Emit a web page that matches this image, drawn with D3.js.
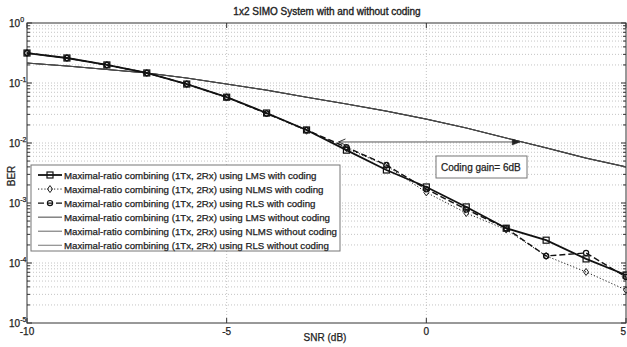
<!DOCTYPE html>
<html>
<head>
<meta charset="utf-8">
<script src="https://cdn.jsdelivr.net/npm/d3@7"></script>
<style>
  body { margin: 0; background: #fff; }
  text { font-family: Arial, "Liberation Sans", sans-serif; fill: #222; stroke: #222; stroke-width: 0.25; }
</style>
</head>
<body>
<svg id="chart" width="627" height="347"></svg>
<script>
// SNR points (dB)
const snr = [-10, -9, -8, -7, -6, -5, -4, -3, -2, -1, 0, 1, 2, 3, 4, 5];

// BER with coding
const lmsCoded  = [0.316, 0.261, 0.2, 0.147, 0.096, 0.058, 0.0316, 0.0165, 0.0076, 0.00355, 0.00185, 0.00086, 0.00038, 0.00024, 0.000117, 0.000063];
const nlmsCoded = [0.316, 0.261, 0.2, 0.147, 0.096, 0.058, 0.031, 0.016, 0.0082, 0.0042, 0.0015, 0.00068, 0.00036, 0.000131, 0.000071, 0.0000355];
const rlsCoded  = [0.316, 0.261, 0.2, 0.147, 0.096, 0.058, 0.031, 0.0165, 0.0085, 0.0043, 0.0017, 0.00078, 0.00038, 0.000131, 0.000147, 0.0000585];

// BER without coding (the three curves overlap)
const lmsUncoded  = [0.215, 0.192, 0.168, 0.147, 0.121, 0.096, 0.076, 0.058, 0.0447, 0.034, 0.025, 0.0178, 0.0121, 0.0083, 0.0056, 0.004];
const nlmsUncoded = [0.215, 0.192, 0.168, 0.147, 0.121, 0.096, 0.076, 0.058, 0.0447, 0.034, 0.025, 0.0178, 0.0121, 0.0083, 0.0056, 0.004];
const rlsUncoded  = [0.215, 0.192, 0.168, 0.147, 0.121, 0.096, 0.076, 0.058, 0.0447, 0.034, 0.025, 0.0178, 0.0121, 0.0083, 0.0056, 0.004];

const xTicks = [-10, -5, 0, 5];
const yExponents = [0, -1, -2, -3, -4, -5];

const legendLabels = [
  'Maximal-ratio combining (1Tx, 2Rx) using LMS with coding',
  'Maximal-ratio combining (1Tx, 2Rx) using NLMS with coding',
  'Maximal-ratio combining (1Tx, 2Rx) using RLS with coding',
  'Maximal-ratio combining (1Tx, 2Rx) using LMS without coding',
  'Maximal-ratio combining (1Tx, 2Rx) using NLMS without coding',
  'Maximal-ratio combining (1Tx, 2Rx) using RLS without coding'
];

// coding gain arrow (SNR start, SNR end, BER level)
const gainArrow = [-2.2, 2.35, 0.0104];
const gainText = 'Coding gain= 6dB';

const series = [
  { values: lmsUncoded,  stroke: '#3a3a3a', width: 1.1, dash: null, marker: null },
  { values: nlmsUncoded, stroke: '#444',    width: 1.0, dash: null, marker: null },
  { values: rlsUncoded,  stroke: '#4a4a4a', width: 1.0, dash: null, marker: null },
  { values: lmsCoded,  stroke: '#111', width: 1.8, dash: null,  marker: 'square' },
  { values: nlmsCoded, stroke: '#222', width: 1.0, dash: '1.2,2', marker: 'diamond' },
  { values: rlsCoded,  stroke: '#111', width: 1.4, dash: '6,3', marker: 'circle' }
];
const legendStyle = [series[3], series[4], series[5],
  { stroke: '#444', width: 1, dash: null, marker: null },
  { stroke: '#666', width: 1, dash: null, marker: null },
  { stroke: '#777', width: 1, dash: null, marker: null }];

const svg = d3.select('#chart');
const plotLeft = 27, plotRight = 626, plotTop = 23, plotBottom = 323;

const x = d3.scaleLinear().domain([-10, 5]).range([plotLeft, plotRight]);
const y = d3.scaleLog().domain([1e-5, 1]).range([plotBottom, plotTop]);

// grid
const minorVals = [];
yExponents.slice(1).forEach(e => {
  for (let m = 2; m <= 9; m++) minorVals.push(m * Math.pow(10, e));
});
const grid = svg.append('g').attr('stroke', '#b5b5b5').attr('stroke-width', 0.8)
  .attr('stroke-dasharray', '1,2');
grid.selectAll('line.minor').data(minorVals).join('line')
  .attr('x1', plotLeft).attr('x2', plotRight)
  .attr('y1', d => y(d)).attr('y2', d => y(d));
grid.selectAll('line.major').data(yExponents.slice(1, -1).map(e => Math.pow(10, e))).join('line')
  .attr('x1', plotLeft).attr('x2', plotRight)
  .attr('y1', d => y(d)).attr('y2', d => y(d));
grid.selectAll('line.vx').data([-5, 0]).join('line')
  .attr('x1', d => x(d)).attr('x2', d => x(d))
  .attr('y1', plotTop).attr('y2', plotBottom);

// axes box
svg.append('rect').attr('x', plotLeft).attr('y', plotTop)
  .attr('width', plotRight - plotLeft).attr('height', plotBottom - plotTop)
  .attr('fill', 'none').attr('stroke', '#333').attr('stroke-width', 1);

const ticks = svg.append('g').attr('stroke', '#333').attr('stroke-width', 1);
yExponents.forEach(e => {
  const yy = y(Math.pow(10, e));
  ticks.append('line').attr('x1', plotLeft).attr('x2', plotLeft + 5).attr('y1', yy).attr('y2', yy);
  ticks.append('line').attr('x1', plotRight - 5).attr('x2', plotRight).attr('y1', yy).attr('y2', yy);
});
minorVals.forEach(v => {
  const yy = y(v);
  ticks.append('line').attr('x1', plotLeft).attr('x2', plotLeft + 3).attr('y1', yy).attr('y2', yy);
  ticks.append('line').attr('x1', plotRight - 3).attr('x2', plotRight).attr('y1', yy).attr('y2', yy);
});
xTicks.forEach(t => {
  ticks.append('line').attr('x1', x(t)).attr('x2', x(t)).attr('y1', plotBottom).attr('y2', plotBottom - 5);
  ticks.append('line').attr('x1', x(t)).attr('x2', x(t)).attr('y1', plotTop).attr('y2', plotTop + 5);
});

// tick labels (the last one is pushed inside the page edge)
svg.append('g').selectAll('text').data(xTicks).join('text')
  .attr('x', d => d === 5 ? x(d) : x(d)).attr('y', plotBottom + 12)
  .attr('text-anchor', d => d === 5 ? 'end' : 'middle').attr('font-size', 10)
  .text(d => d);

const yl = svg.append('g').selectAll('text').data(yExponents).join('text')
  .attr('x', 9).attr('y', d => y(Math.pow(10, d)) + 4)
  .attr('font-size', 10);
yl.append('tspan').text('10');
yl.append('tspan').attr('dy', -5).attr('font-size', 7).text(d => d);

// axis titles
svg.append('text').attr('x', 327).attr('y', 14.5).attr('text-anchor', 'middle')
  .attr('font-size', 10).style('stroke-width', 0.35)
  .text('1x2 SIMO System with and without coding');
svg.append('text').attr('x', 325).attr('y', 341).attr('text-anchor', 'middle')
  .attr('font-size', 10).text('SNR (dB)');
svg.append('text').attr('transform', 'translate(15,176) rotate(-90)')
  .attr('text-anchor', 'middle').attr('font-size', 10).text('BER');

// curves
const line = d3.line().x((d, i) => x(snr[i])).y(d => y(d));

function drawMarker(g, type, cx, cy, stroke) {
  if (type === 'square') {
    g.append('rect').attr('x', cx - 3).attr('y', cy - 3).attr('width', 6).attr('height', 6)
      .attr('fill', 'none').attr('stroke', stroke).attr('stroke-width', 1.2);
  } else if (type === 'diamond') {
    g.append('path').attr('d', `M${cx},${cy - 3.5}L${cx + 2.5},${cy}L${cx},${cy + 3.5}L${cx - 2.5},${cy}Z`)
      .attr('fill', 'none').attr('stroke', stroke).attr('stroke-width', 1);
  } else if (type === 'circle') {
    g.append('circle').attr('cx', cx).attr('cy', cy).attr('r', 2.6)
      .attr('fill', 'none').attr('stroke', stroke).attr('stroke-width', 1.2);
  }
}

const curves = svg.append('g');
series.forEach(s => {
  curves.append('path').datum(s.values).attr('d', line)
    .attr('fill', 'none').attr('stroke', s.stroke).attr('stroke-width', s.width)
    .attr('stroke-dasharray', s.dash);
  if (s.marker) {
    const mg = curves.append('g');
    s.values.forEach((v, i) => drawMarker(mg, s.marker, x(snr[i]), y(v), s.stroke));
  }
});

// coding gain arrow
const ay = y(gainArrow[2]);
const ax1 = x(gainArrow[0]), ax2 = x(gainArrow[1]);
const ann = svg.append('g');
ann.append('line').attr('x1', ax1).attr('x2', ax2).attr('y1', ay).attr('y2', ay)
  .attr('stroke', '#555').attr('stroke-width', 1);
ann.append('path').attr('d', `M${ax1 + 7},${ay - 3}L${ax1},${ay}L${ax1 + 7},${ay + 3}`)
  .attr('fill', 'none').attr('stroke', '#333').attr('stroke-width', 1);
ann.append('path').attr('d', `M${ax2 - 8},${ay - 3}L${ax2},${ay}L${ax2 - 8},${ay + 3}Z`)
  .attr('fill', '#222').attr('stroke', '#222').attr('stroke-width', 0.5);

ann.append('rect').attr('x', 436).attr('y', 156).attr('width', 91).attr('height', 22)
  .attr('fill', '#fff').attr('stroke', '#777').attr('stroke-width', 1);
ann.append('text').attr('x', 441).attr('y', 171).attr('font-size', 10).text(gainText);

// legend
const lg = svg.append('g');
lg.append('rect').attr('x', 31).attr('y', 165).attr('width', 309).attr('height', 86)
  .attr('fill', '#fff').attr('stroke', '#777').attr('stroke-width', 1);
legendLabels.forEach((lab, i) => {
  const cy = 175 + i * 14.05;
  const st = legendStyle[i];
  lg.append('line').attr('x1', 38).attr('x2', 62).attr('y1', cy).attr('y2', cy)
    .attr('stroke', st.stroke).attr('stroke-width', st.width).attr('stroke-dasharray', st.dash);
  if (st.marker) drawMarker(lg, st.marker, 50, cy, st.stroke);
  lg.append('text').attr('x', 64).attr('y', cy + 3.5).attr('font-size', 9.7).text(lab);
});
</script>
</body>
</html>
